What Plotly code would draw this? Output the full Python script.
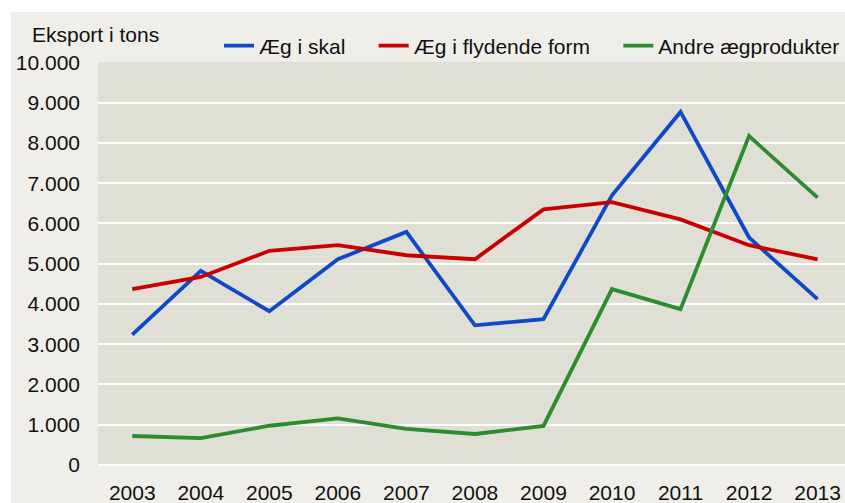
import plotly.graph_objects as go

years = ["2003", "2004", "2005", "2006", "2007", "2008", "2009", "2010", "2011", "2012", "2013"]
aeg_i_skal = [3240, 4820, 3820, 5110, 5790, 3470, 3620, 6700, 8770, 5650, 4120]
aeg_flydende = [4370, 4670, 5320, 5460, 5210, 5110, 6350, 6530, 6100, 5460, 5110]
andre = [720, 670, 975, 1160, 900, 770, 970, 4370, 3870, 8170, 6640]

series_names = ["Æg i skal", "Æg i flydende form", "Andre ægprodukter"]
legend_pad = ["\u00a0" * 4, "\u00a0" * 4, ""]
colors = ["#1049C8", "#C80000", "#2C8C2E"]

font_family = "Arial, 'Liberation Sans', sans-serif"
text_color = "#111111"

fig = go.Figure()
for name, pad, vals, col in zip(series_names, legend_pad, [aeg_i_skal, aeg_flydende, andre], colors):
    fig.add_trace(go.Scatter(x=years, y=vals, name=name + pad, mode="lines",
                             line=dict(color=col, width=3.8)))

W, H = 845, 503
L, R, T, B = 98, 0, 62, 38
pw, ph = W - L - R, H - T - B

def px_x(p):
    return (p - L) / pw

def px_y(p):
    return (H - B - p) / ph

fig.update_layout(
    width=W, height=H,
    margin=dict(l=L, r=R, t=T, b=B, pad=0),
    paper_bgcolor="#EFEEE8",
    plot_bgcolor="#E0DFD5",
    separators=",.",
    font=dict(family=font_family, size=21, color=text_color),
    showlegend=True,
    legend=dict(orientation="h", x=px_x(219), xanchor="left", y=px_y(46), yanchor="middle",
                bgcolor="rgba(0,0,0,0)", font=dict(size=21), itemwidth=30,
                tracegroupgap=0),
    xaxis=dict(type="category", range=[-0.5, 10.4], showgrid=False, zeroline=False,
               showline=False, ticks="", tickfont=dict(size=21), ticklabelstandoff=13),
    yaxis=dict(range=[0, 10010], tickvals=[0, 1000, 2000, 3000, 4000, 5000, 6000, 7000, 8000, 9000, 10000],
               tickformat=",d", showgrid=True, gridcolor="#FFFFFF", gridwidth=2,
               zeroline=True, zerolinecolor="#FFFFFF", zerolinewidth=2,
               showline=False, ticks="", tickfont=dict(size=21), ticklabelstandoff=17),
    annotations=[dict(text="Eksport i tons", xref="paper", yref="paper",
                      x=px_x(30), y=px_y(34), xanchor="left", yanchor="middle",
                      showarrow=False, font=dict(size=21, color=text_color))],
    shapes=[
        dict(type="rect", xref="paper", yref="paper", layer="above",
             x0=px_x(0), x1=px_x(W), y0=px_y(12), y1=px_y(0),
             fillcolor="#FFFFFF", line=dict(width=0)),
        dict(type="rect", xref="paper", yref="paper", layer="above",
             x0=px_x(0), x1=px_x(11), y0=px_y(H), y1=px_y(0),
             fillcolor="#FFFFFF", line=dict(width=0)),
    ],
)

fig.write_html("out.html", config={"displayModeBar": False},
               post_script="document.body.style.margin='0';document.body.style.overflow='hidden';")
